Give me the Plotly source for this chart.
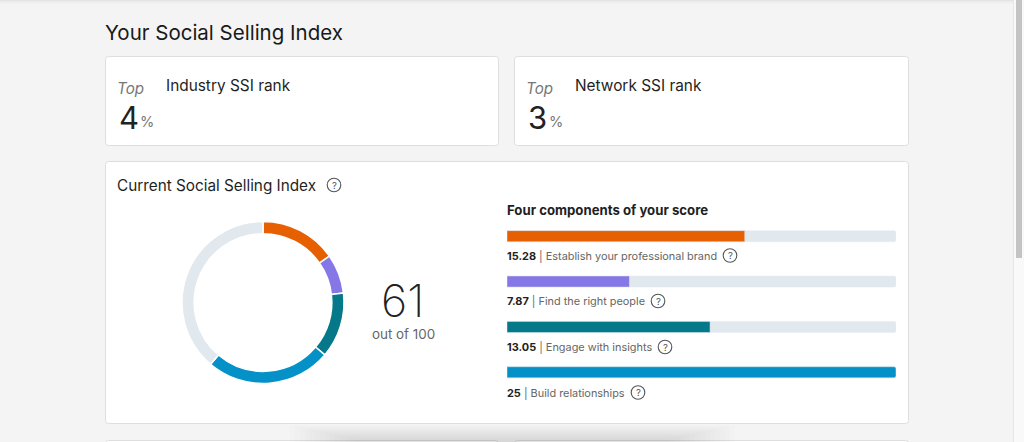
import plotly.graph_objects as go

# Data
components = ["Establish your professional brand", "Find the right people", "Engage with insights", "Build relationships"]
scores = [15.28, 7.87, 13.05, 25]
score_labels = ["15.28", "7.87", "13.05", "25"]
component_max = 25
total_score = 61
total_max = 100
colors = ["#E65F00", "#8577E6", "#05788A", "#0391C8"]
track = "#E1E8EE"
ranks = [("Industry SSI rank", "4"), ("Network SSI rank", "3")]

W, H = 1024, 442
FONT = "Inter, Liberation Sans, sans-serif"
DARK = "#1f1f1f"
MID = "#666666"


def card(x0, y0, x1, y1, r=3):
    p = f"M{x0+r},{y0} L{x1-r},{y0} Q{x1},{y0} {x1},{y0+r} L{x1},{y1-r} Q{x1},{y1} {x1-r},{y1} L{x0+r},{y1} Q{x0},{y1} {x0},{y1-r} L{x0},{y0+r} Q{x0},{y0} {x0+r},{y0} Z"
    return dict(type="path", path=p, xref="x", yref="y", fillcolor="#ffffff",
                line=dict(color="#DEDEDC", width=1), layer="below")


def rect(x0, y0, x1, y1, color):
    return dict(type="rect", x0=x0, y0=y0, x1=x1, y1=y1, xref="x", yref="y",
                fillcolor=color, line=dict(width=0), layer="below")


def label(x, y, text, size, color=DARK, anchor="left", weight=None):
    font = dict(family=FONT, size=size, color=color)
    if weight:
        font["weight"] = weight
    return dict(x=x, y=y, xref="x", yref="y", text=text, showarrow=False, xanchor=anchor, yanchor="middle",
                font=font, borderpad=0)


fig = go.Figure()

# Hidden pixel-space axes for the page furniture
fig.add_trace(go.Scatter(x=[0, W], y=[0, H], xaxis="x", yaxis="y", mode="markers",
                         marker=dict(opacity=0), hoverinfo="skip", showlegend=False))

# Donut
fig.add_trace(go.Pie(values=scores + [total_max - sum(scores)], hole=0.85, sort=False, direction="clockwise",
                     rotation=0, marker=dict(colors=colors + [track], line=dict(color="#ffffff", width=1.5)),
                     textinfo="none", showlegend=False,
                     domain=dict(x=[182 / W, 344 / W], y=[1 - 383.5 / H, 1 - 221.5 / H])))

# Component bars
fig.add_trace(go.Bar(y=components, x=[component_max] * 4, orientation="h", xaxis="x2", yaxis="y2",
                     marker=dict(color=track, cornerradius=2), width=0.245, showlegend=False))
fig.add_trace(go.Bar(y=components, x=scores, orientation="h", xaxis="x2", yaxis="y2",
                     marker=dict(color=colors, cornerradius=2), width=0.245, showlegend=False))

shapes = [
    rect(0, 0, W, 1, "#e4e4e4"), rect(0, 1, W, 2, "#ebebeb"), rect(0, 2, W, 4, "#f0f0f0"),
    rect(1013, 0, 1024, H, "#f9f9f9"), rect(1013, 0, 1014, H, "#e6e6e6"), rect(1016, 0, 1022, 258, "#c4c4c4"),
    card(105.5, 56.5, 498.5, 145.5), card(514.5, 56.5, 908.5, 145.5), card(105.5, 161.5, 908.5, 423.5),
    card(105.5, 440.5, 498.5, 470), card(514.5, 440.5, 908.5, 470),
]
# bottom soft shadow
for i in range(14):
    shapes.append(rect(290 + i * 5, 425 + i * 1.1, 735 - i * 5, 442, "rgba(0,0,0,0.0075)"))

annotations = [label(104, 32, "Your Social Selling Index", 20.5, "#191919"),
               label(116, 185, "Current Social Selling Index", 15.3),
               label(506, 209.5, "<b>Four components of your score</b>", 13.2),
               label(402.5, 300, str(total_score), 45, "#222222", "center", 200),
               label(403, 334, f"out of {total_max}", 13.4, MID, "center")]

for (name, val), x in zip(ranks, [116, 525]):
    annotations += [label(x, 88, "<i>Top</i>", 15.2, "#777777"),
                    label(x + 49, 85.5, name, 15.4),
                    label(x + 2, 117, val, 31, "#222222"),
                    label(x + 23, 121.5, "%", 14.6, "#777777")]

rows_y = [255.5, 301, 347, 392.5]
icon_x = [730, 658, 665, 638]
for n, s, y in zip(components, score_labels, rows_y):
    annotations.append(label(506, y, f"<b><span style='color:#222222'>{s}</span></b> | {n}", 10.9, MID))

icons = [(334, 185)] + list(zip(icon_x, rows_y))
for x, y in icons:
    shapes.append(dict(type="circle", x0=x - 6.8, x1=x + 6.8, y0=y - 6.8, y1=y + 6.8, xref="x", yref="y",
                       line=dict(color="#555555", width=1.1), fillcolor="rgba(0,0,0,0)", layer="above"))
    annotations.append(label(x, y, "?", 9.5, "#555555", "center"))

fig.update_layout(
    width=W, height=H, margin=dict(l=0, r=0, t=0, b=0), autosize=False,
    paper_bgcolor="#F4F4F4", plot_bgcolor="rgba(0,0,0,0)", barmode="overlay", showlegend=False,
    xaxis=dict(domain=[0, 1], range=[0, W], visible=False),
    yaxis=dict(domain=[0, 1], range=[H, 0], visible=False),
    xaxis2=dict(domain=[507 / W, 896 / W], range=[0, component_max], visible=False, anchor="y2"),
    yaxis2=dict(domain=[1 - 395 / H, 1 - 213.5 / H], autorange="reversed", visible=False, type="category",
                categoryorder="array", categoryarray=components, anchor="x2"),
    shapes=shapes, annotations=annotations,
)

fig.write_html("out.html", config={"displayModeBar": False},
               post_script="document.body.style.margin='0';document.body.style.overflow='hidden';")
